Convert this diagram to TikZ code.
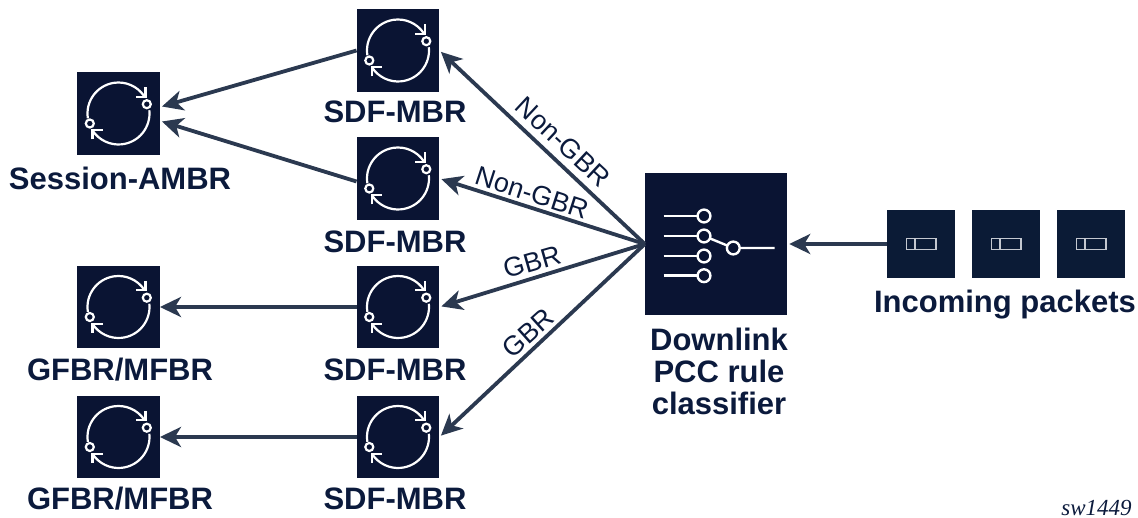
\documentclass[tikz,border=0pt]{standalone}
\usepackage{fontspec}
\setmainfont{Liberation Sans}
\newfontfamily\tagfont{Liberation Serif}
\usetikzlibrary{arrows.meta,calc}
\definecolor{boxblue}{HTML}{0A1433}
\definecolor{pktblue}{HTML}{0B1B36}
\definecolor{arrowblue}{HTML}{2B3950}
\definecolor{textblue}{HTML}{0B1A3C}
\definecolor{pktline}{HTML}{C4C8D0}
\tikzset{
	meterbox/.style={fill=boxblue,draw=none,minimum size=82.5pt,inner sep=0pt},
	classbox/.style={fill=boxblue,draw=none,minimum size=142pt,inner sep=0pt},
	pktbox/.style={fill=pktblue,draw=none,minimum size=68pt,inner sep=0pt},
	caption/.style={text=textblue,font=\fontsize{31}{32}\selectfont\bfseries,align=center,inner sep=0pt},
	flowlabel/.style={text=textblue,font=\fontsize{27}{32}\selectfont,inner sep=0pt},
	flow/.style={draw=arrowblue,line width=3.8pt,-{Stealth[length=21pt,width=20pt,inset=6pt]}},
	meter/.pic={
		\draw[white,line width=2.2pt] (189:31pt) arc[start angle=189,end angle=34,radius=31pt];
		\draw[white,line width=2.2pt] (6:31pt) arc[start angle=6,end angle=-147,radius=31pt];
		\draw[white,line width=2.2pt] (27,-26) -- (27,-16.7) -- (17,-16.7);
		\draw[white,line width=2.2pt] (-26,26) -- (-26,16.7) -- (-16,16.7);
		\draw[white,line width=2.2pt,fill=boxblue] (28.3,-9.3) circle (4pt);
		\draw[white,line width=2.2pt,fill=boxblue] (-28.7,10) circle (4pt);
	},
	packet/.pic={
		\draw[pktline,line width=1.5pt] (-14.3,-5.5) rectangle (15,5.5);
		\draw[pktline,line width=1.5pt] (-6,-5.5) -- (-6,5.5);
	}
}

\begin{document}
\begin{tikzpicture}[x=1pt,y=-1pt]
\useasboundingbox (0,0) rectangle (1138,518);

% meters
\node[meterbox] (session) at (118.5,113.5) {};
\node[meterbox] (gfbra) at (118.5,307) {};
\node[meterbox] (gfbrb) at (118.5,437) {};
\node[meterbox] (sdfa) at (398,50.5) {};
\node[meterbox] (sdfb) at (398,178.5) {};
\node[meterbox] (sdfc) at (398,307) {};
\node[meterbox] (sdfd) at (398,437) {};
\foreach \m in {session,gfbra,gfbrb,sdfa,sdfb,sdfc,sdfd}
	\pic at (\m) {meter};

% classifier
\node[classbox] (clf) at (716,244) {};
\draw[white,line width=2.4pt] (663.5,216) -- (704,216);
\draw[white,line width=2.4pt] (663.5,236) -- (704,236);
\draw[white,line width=2.4pt] (663.5,256) -- (704,256);
\draw[white,line width=2.4pt] (663.5,275.7) -- (704,275.7);
\draw[white,line width=2.4pt] (704,236) -- (733.3,248) -- (774.5,248);
\foreach \y in {216,236,256,275.7}
	\draw[white,line width=2.4pt,fill=boxblue] (704,\y) circle (6.4pt);
\draw[white,line width=2.4pt,fill=boxblue] (733.3,248) circle (6.4pt);

% packets
\node[pktbox] (pkta) at (921,244) {};
\node[pktbox] (pktb) at (1006,244) {};
\node[pktbox] (pktc) at (1091,244) {};
\foreach \p in {pkta,pktb,pktc}
	\pic at (\p) {packet};

% captions
\node[caption] (capsession) at (120,178) {Session-AMBR};
\node[caption] (capgfbra) at (120,370) {GFBR/MFBR};
\node[caption] (capgfbrb) at (120,499) {GFBR/MFBR};
\node[caption] (capsdfa) at (395,112) {SDF-MBR};
\node[caption] (capsdfb) at (395,242) {SDF-MBR};
\node[caption] (capsdfc) at (395,370) {SDF-MBR};
\node[caption] (capsdfd) at (395,499) {SDF-MBR};
\node[caption] (capclf) at (719,371) {Downlink\\PCC rule\\classifier};
\node[caption] (cappkt) at (1005,305) {Incoming packets};
\node[text=textblue,font=\tagfont\itshape\fontsize{23}{24}\selectfont,inner sep=0pt] (tag) at (1096.5,508) {sw1449};

% free ends on the session box
\coordinate (sessup) at ($(session.east)+(2,-7)$);
\coordinate (sessdown) at ($(session.east)+(2,8)$);

% arrows
\draw[flow] (sdfa.west) -- (sessup);
\draw[flow] (sdfb.west) ++(0,3) -- (sessdown);
\draw[flow] (sdfc.west) -- (gfbra.east);
\draw[flow] (sdfd.west) -- (gfbrb.east);
\draw[flow,shorten >=2pt] (clf.west) -- (sdfa.east);
\draw[flow,shorten >=2pt] (clf.west) -- (sdfb.east);
\draw[flow,shorten >=2pt] (clf.west) -- (sdfc.east);
\draw[flow,shorten >=2pt] (clf.west) -- (sdfd.east);
\draw[flow,shorten >=2pt] (pkta.west) -- (clf.east);

% labels
\node[flowlabel,rotate=-43] (lbla) at (563,142) {Non-GBR};
\node[flowlabel,rotate=-18] (lblb) at (532,193) {Non-GBR};
\node[flowlabel,rotate=16] (lblc) at (532,262) {GBR};
\node[flowlabel,rotate=42] (lbld) at (528,333) {GBR};
\end{tikzpicture}
\end{document}
